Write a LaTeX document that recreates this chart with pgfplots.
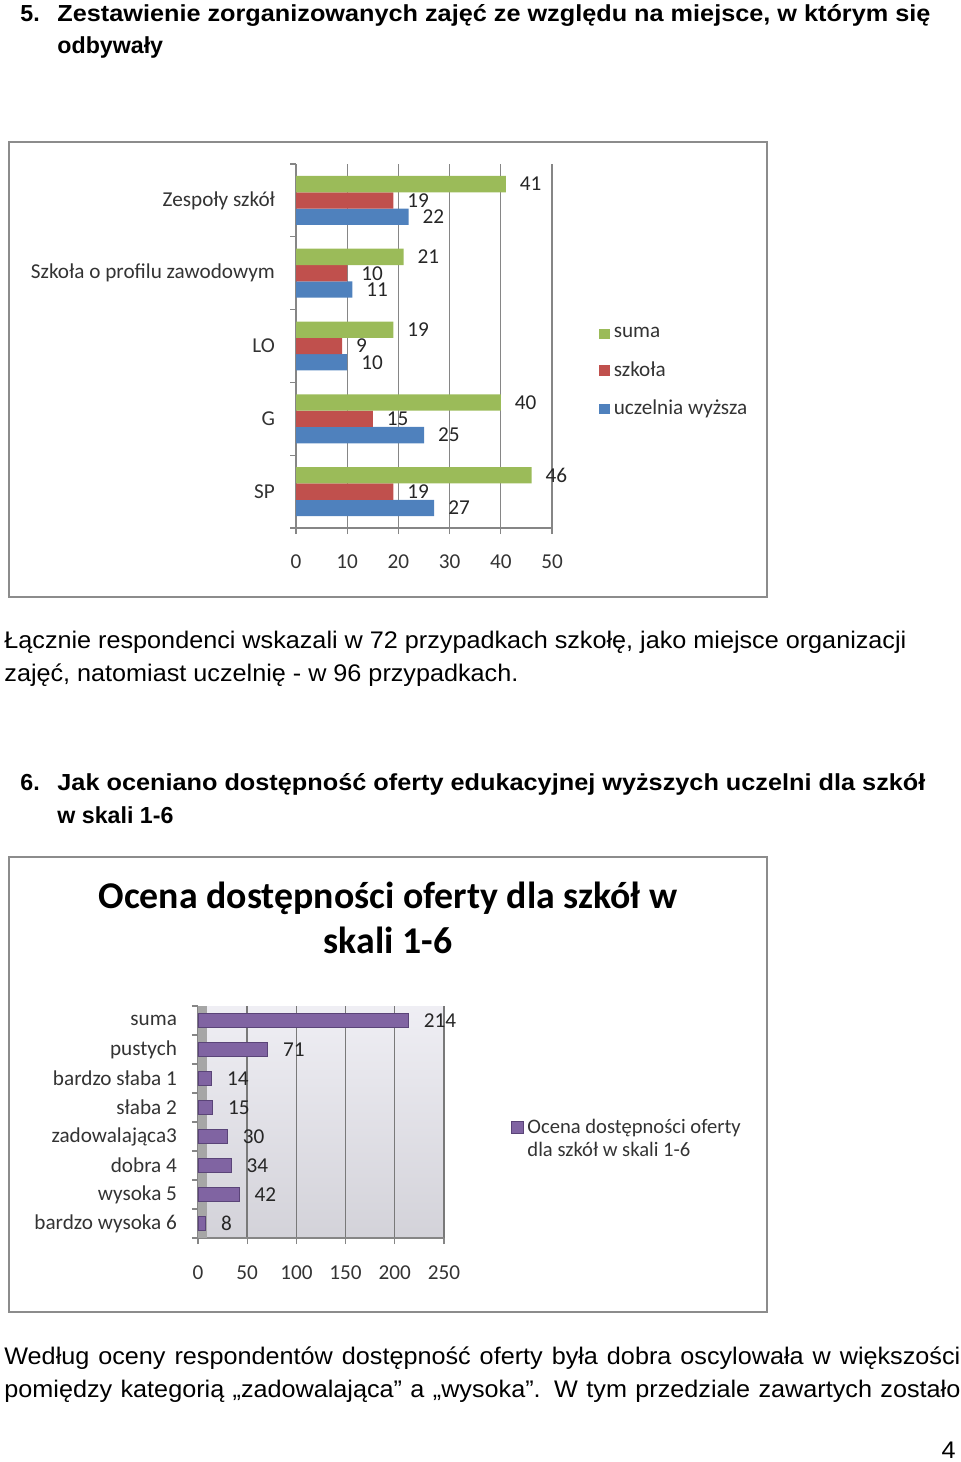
\documentclass[border=0pt]{standalone}
\usepackage{fontspec}
\setmainfont{Liberation Sans}[FakeStretch=1.05]
\newfontfamily\hfont{Liberation Sans}
\newfontfamily\calfont{Carlito}
\usepackage{pgfplots}
\pgfplotsset{compat=1.18}
\definecolor{cgreen}{HTML}{9BBB59}
\definecolor{cred}{HTML}{C0504D}
\definecolor{cblue}{HTML}{4F81BD}
\definecolor{cpurple}{HTML}{8064A2}
\definecolor{cpurpledark}{HTML}{5A4478}
\definecolor{gridgray}{HTML}{868686}
\definecolor{boxgray}{HTML}{8C8C8C}
\definecolor{wall}{HTML}{E8E7EF}
\definecolor{sidewall}{HTML}{A6A6A6}
\begin{document}
\begin{tikzpicture}
\useasboundingbox (0,0) rectangle (480pt,-731pt);
\tikzset{txt/.style={anchor=base west, inner sep=0pt, font=\fontsize{12}{14}\selectfont},
  hd/.style={anchor=base west, inner sep=0pt, font=\hfont\fontsize{11.6}{14}\bfseries}}
% heading 5
\node[hd] at (10pt,-10.5pt) {5.};
\node[hd] at (28.5pt,-10.5pt) {\resizebox{436.5pt}{\height}{Zestawienie zorganizowanych zajęć ze względu na miejsce, w którym się}};
\node[hd] at (28.5pt,-26.5pt) {odbywały};
% box 1
\draw[boxgray, line width=0.8pt] (4.5pt,-71pt) rectangle (383.5pt,-298.5pt);
% body 1
\node[txt] at (2pt,-324pt) {Łącznie respondenci wskazali w 72 przypadkach szkołę, jako miejsce organizacji};
\node[txt] at (2pt,-340.5pt) {zajęć, natomiast uczelnię - w 96 przypadkach.};
% heading 6
\node[hd] at (10pt,-395pt) {6.};
\node[hd] at (28.5pt,-395pt) {\resizebox{434pt}{\height}{Jak oceniano dostępność oferty edukacyjnej wyższych uczelni dla szkół}};
\node[hd] at (28.5pt,-411.5pt) {w skali 1-6};
% box 2
\draw[boxgray, line width=0.8pt] (4.5pt,-428.5pt) rectangle (383.5pt,-656pt);
\node[anchor=base, inner sep=0pt, font=\calfont\fontsize{18.9}{22}\bfseries] at (194pt,-454pt) {Ocena dostępności oferty dla szkół w};
\node[anchor=base, inner sep=0pt, font=\calfont\fontsize{18.9}{22}\bfseries] at (194pt,-476.5pt) {skali 1-6};
% body 2
\node[txt] at (2pt,-682pt) {\makebox[478pt][s]{Według oceny respondentów dostępność oferty była dobra oscylowała w większości}};
\node[txt] at (2pt,-698.5pt) {\makebox[478pt][s]{pomiędzy kategorią „zadowalająca” a „wysoka”. W tym przedziale zawartych zostało}};
\node[anchor=base east, inner sep=0pt, font=\fontsize{12}{14}\selectfont] at (478pt,-729pt) {4};

% chart 1
\begin{axis}[
  at={(148pt,-264pt)}, anchor=south west,
  scale only axis, width=128pt, height=182pt,
  xbar=0pt, bar width=0.224,
  xmin=0, xmax=50, ymin=0.5, ymax=5.5,
  axis x line*=bottom, axis y line*=left,
  axis line style={draw=gridgray, line width=0.6pt},
  tick align=outside, major tick length=3pt,
  tick style={draw=gridgray, line width=0.6pt},
  xtick={0,10,...,50},
  xmajorgrids, grid style={draw=gridgray, line width=0.6pt},
  ytick={0.5,1.5,...,5.5}, yticklabels={},
  extra y ticks={1,2,3,4,5},
  extra y tick labels={SP,G,LO,Szkoła o profilu zawodowym,Zespoły szkół},
  extra y tick style={major tick length=0pt, grid=none, yticklabel style={xshift=-7pt}},
  ticklabel style={font=\calfont\fontsize{10.6}{12}\selectfont, text=black!80},
  xticklabel style={yshift=-7pt},
  /pgf/number format/assume math mode=true,
  nodes near coords,
  every node near coord/.append style={font=\calfont\fontsize{10.6}{12}\selectfont, text=black!85, xshift=3.5pt},
  legend style={at={(1.16,0.427)}, anchor=west, draw=none, fill=none,
    font=\calfont\fontsize{10.6}{12}\selectfont, text=black!80, row sep=6.5pt},
  legend cell align=left, reverse legend,
  legend image code/.code={\fill[#1] (0pt,-2.6pt) rectangle (5.2pt,2.6pt);},
]
\addplot[fill=cblue, draw=none] coordinates {(27,1) (25,2) (10,3) (11,4) (22,5)};
\addplot[fill=cred, draw=none] coordinates {(19,1) (15,2) (9,3) (10,4) (19,5)};
\addplot[fill=cgreen, draw=none] coordinates {(46,1) (40,2) (19,3) (21,4) (41,5)};
\legend{uczelnia wyższa,szkoła,suma}
\end{axis}

% chart 2
\begin{axis}[
  at={(99pt,-619pt)}, anchor=south west,
  scale only axis, width=123pt, height=116pt,
  xbar, bar width=0.5,
  xmin=0, xmax=250, ymin=0.5, ymax=8.5,
  axis background/.style={top color=wall!70!white, bottom color=wall!90!black!95},
  axis x line*=bottom, axis y line*=left,
  axis line style={draw=gridgray, line width=0.6pt},
  tick align=outside, major tick length=3pt,
  tick style={draw=gridgray, line width=0.6pt},
  xtick={0,50,...,250},
  xmajorgrids, grid style={draw=gridgray!90!black, line width=0.7pt},
  ytick={0.5,1.5,...,8.5}, yticklabels={},
  extra y ticks={1,2,3,4,5,6,7,8},
  extra y tick labels={bardzo wysoka 6,wysoka 5,dobra 4,zadowalająca3,słaba 2,bardzo słaba 1,pustych,suma},
  extra y tick style={major tick length=0pt, grid=none, yticklabel style={xshift=-7pt}},
  ticklabel style={font=\calfont\fontsize{10.6}{12}\selectfont, text=black!80},
  xticklabel style={yshift=-7.5pt},
  /pgf/number format/assume math mode=true,
  nodes near coords,
  every node near coord/.append style={font=\calfont\fontsize{10.6}{12}\selectfont, text=black!85, xshift=4pt},
  legend style={at={(1.245,0.425)}, anchor=west, draw=none, fill=none,
    font=\calfont\fontsize{10.3}{12.5}\selectfont, text=black!80},
  legend cell align=left,
  legend image code/.code={\fill[cpurple, draw=cpurpledark, line width=0.4pt] (0pt,3.2pt) rectangle (6pt,9.2pt);},
]
\fill[sidewall] (rel axis cs:0,0) rectangle ([xshift=4.5pt]rel axis cs:0,1);
\addplot[fill=cpurple, draw=cpurpledark, line width=0.6pt] coordinates {(8,1) (42,2) (34,3) (30,4) (15,5) (14,6) (71,7) (214,8)};
\addlegendentry{\shortstack[l]{Ocena dostępności oferty\\dla szkół w skali 1-6}}
\end{axis}
\end{tikzpicture}
\end{document}
